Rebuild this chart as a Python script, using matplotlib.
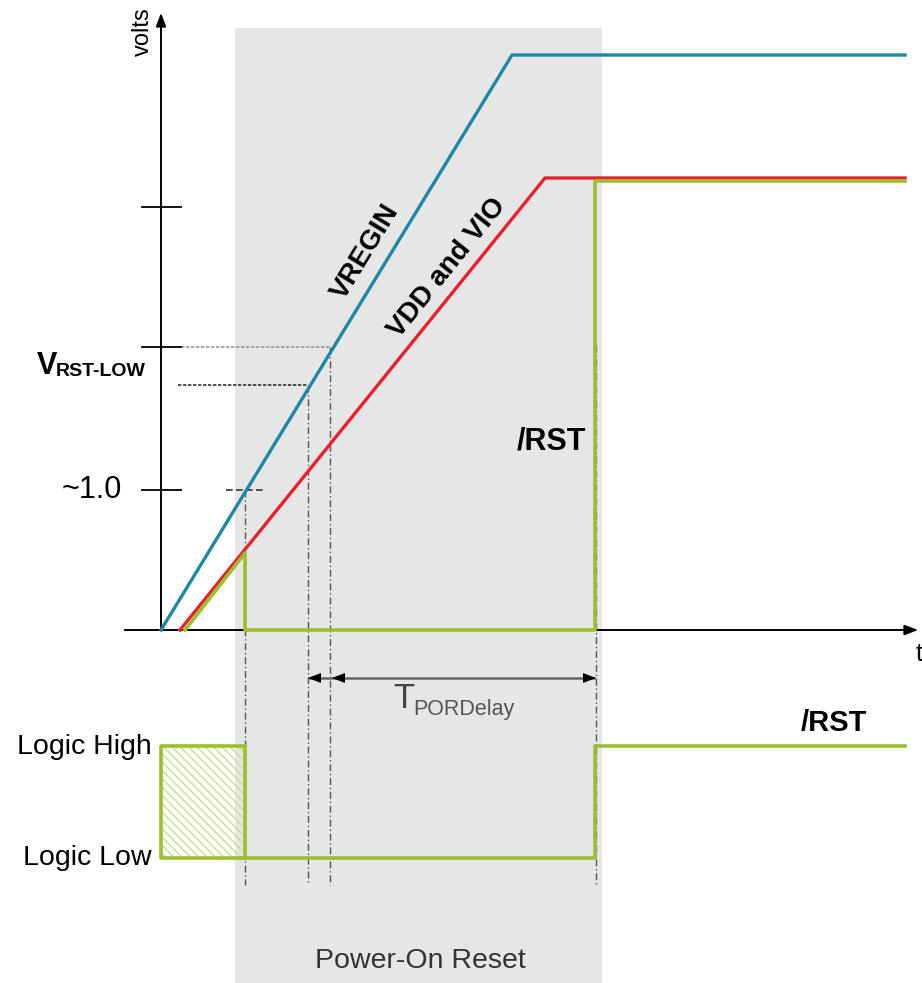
import matplotlib
matplotlib.use("Agg")
from matplotlib import pyplot as plt
import matplotlib.patches as mpatches

# coordinates in diagram units (x: time, y: drawing position, 0 at top)
vregin_t = [161, 512, 905]
vregin_v = [630, 55, 55]
vdd_t = [180, 545, 905]
vdd_v = [630, 178, 178]
rst_top_t = [185, 245, 245, 595, 595, 905]
rst_top_v = [630, 553, 630, 630, 181, 181]
rst_low_t = [245, 245, 161, 161, 595, 595, 905]
rst_low_v = [858, 746, 746, 858, 858, 746, 746]

ticks_v = [207, 347, 490]
logic_levels = [747, 858]
logic_labels = ["Logic High", "Logic Low"]

GREEN = "#9cbf2b"
BLUE = "#1c87a6"
RED = "#e8202c"
GRAY = "#e6e6e6"
FONT = "Liberation Sans"

plt.rcParams["hatch.color"] = "#c9de90"
plt.rcParams["hatch.linewidth"] = 1.0

fig = plt.figure(figsize=(9.22, 9.83), dpi=100)
ax = fig.add_axes([0, 0, 1, 1])
ax.set_xlim(0, 922)
ax.set_ylim(983, 0)
ax.axis("off")

# power-on reset band
ax.add_patch(mpatches.Rectangle((235, 28), 367, 960, fc=GRAY, ec="none", zorder=0))

# axes
ax.annotate("", xy=(161, 10), xytext=(161, 630), annotation_clip=False,
            arrowprops=dict(arrowstyle="-|>,head_width=0.3,head_length=0.8", lw=1.4, color="black"), zorder=3)
ax.annotate("", xy=(921, 630), xytext=(122, 630), annotation_clip=False,
            arrowprops=dict(arrowstyle="-|>,head_width=0.3,head_length=0.8", lw=1.4, color="black"), zorder=3)
ax.text(916, 654, "t", fontsize=18, ha="left", va="center", family=FONT)
ax.text(143, 32, "volts", fontsize=17, rotation=90, ha="center", va="center", family=FONT)

# ticks
for v in ticks_v:
    ax.plot([142, 181], [v, v], color="black", lw=1.3, zorder=3)
ax.text(57, 366, "V", fontsize=22, fontweight="bold", ha="right", va="center", family=FONT)
ax.text(56, 372, "RST-LOW", fontsize=14, fontweight="bold", ha="left", va="center", family=FONT)
ax.text(122, 490, "~1.0", fontsize=22, ha="right", va="center", family=FONT)

# dashed guide lines
ax.plot([181, 330], [347, 347], color="#999999", lw=1.2, ls=(0, (2, 1)), zorder=2)
ax.plot([178, 308], [385, 385], color="#333333", lw=1.2, ls=(0, (2, 1)), zorder=2)
ax.plot([226, 265], [490, 490], color="#333333", lw=1.2, ls=(0, (4, 2)), zorder=2)
for x, y0 in [(245, 490), (308, 385), (330, 347), (596, 345)]:
    ax.plot([x, x], [y0, 885], color="#555555", lw=1.0, ls=(0, (5, 2, 1, 2)), zorder=2)

# voltage curves
ax.plot(vregin_t, vregin_v, color=BLUE, lw=2.4, zorder=4)
ax.plot(vdd_t, vdd_v, color=RED, lw=2.4, zorder=4)
ax.plot(rst_top_t, rst_top_v, color=GREEN, lw=2.6, zorder=5)

ax.text(366, 252, "VREGIN", fontsize=20, fontweight="bold", rotation=58.6,
        ha="center", va="center", rotation_mode="anchor", family=FONT)
ax.text(447, 268, "VDD and VIO", fontsize=20, fontweight="bold", rotation=51.1,
        ha="center", va="center", rotation_mode="anchor", family=FONT)
ax.text(551, 442, "/RST", fontsize=22, fontweight="bold", ha="center", va="center", family=FONT)

# T_PORDelay
ax.plot([310, 594], [678, 678], color="#666666", lw=1.8, zorder=3)
for x, d in [(308, -1), (332, -1), (596, 1)]:
    ax.add_patch(mpatches.Polygon([[x, 678], [x - d * 13, 673], [x - d * 13, 683]],
                                  closed=True, fc="black", ec="none", zorder=4))
ax.text(414, 698, "T", fontsize=25, color="#444444", ha="right", va="center", family=FONT)
ax.text(413, 709, "PORDelay", fontsize=15.5, color="#555555", ha="left", va="center", family=FONT)

# logic level signal
ax.add_patch(mpatches.Rectangle((161, 746), 84, 112, fc="none", ec="#c9de90",
                                hatch="\\\\\\\\", lw=0, zorder=3))
ax.plot(rst_low_t, rst_low_v, color=GREEN, lw=2.6, zorder=5)
for v, lab in zip(logic_levels, logic_labels):
    ax.text(152, v, lab, fontsize=20.5, ha="right", va="center", family=FONT)
ax.text(834, 723, "/RST", fontsize=21, fontweight="bold", ha="center", va="center", family=FONT)

ax.text(420, 961, "Power-On Reset", fontsize=20.5, color="#333333", ha="center", va="center",
        family=FONT)

fig.savefig("out.png", dpi=100)
